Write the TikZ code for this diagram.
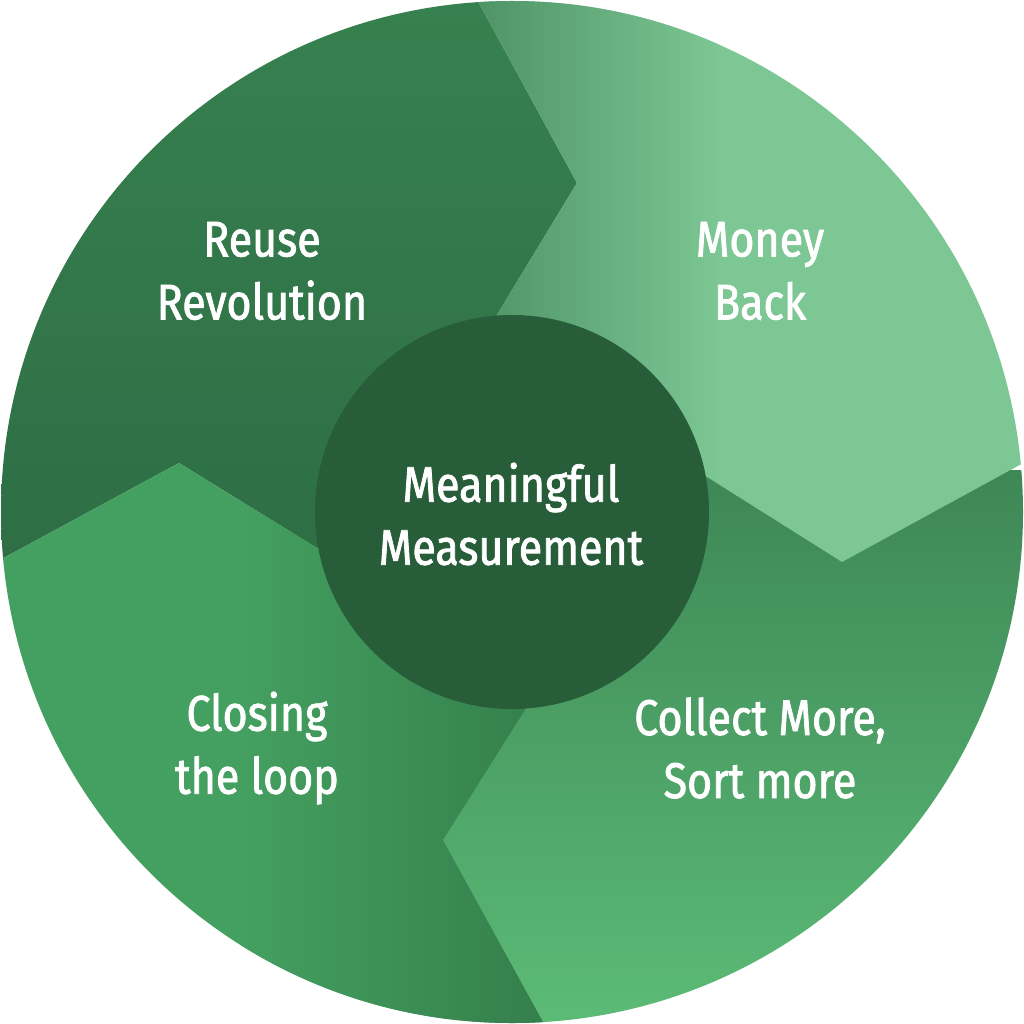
\documentclass[tikz,border=0pt]{standalone}
\usepackage{fontspec}
\setmainfont{Fira Sans}[FakeStretch=0.86,FakeBold=1.6]
\definecolor{reuseA}{HTML}{37814F}
\definecolor{reuseB}{HTML}{2D6C44}
\definecolor{moneyA}{HTML}{4E9265}
\definecolor{moneyB}{HTML}{7CC794}
\definecolor{collA}{HTML}{3E8756}
\definecolor{collB}{HTML}{5CBC77}
\definecolor{closA}{HTML}{44A060}
\definecolor{closB}{HTML}{347D4B}
\definecolor{hub}{HTML}{275D39}
\tikzset{lbl/.style={text=white,align=center,font=\fontsize{50}{63}\selectfont,inner sep=0pt}}
\begin{document}
\begin{tikzpicture}[x=1pt,y=-1pt]
\useasboundingbox (0,0) rectangle (1024,1024);
\begin{scope}
\clip (512,512) circle[radius=511pt];
% Reuse Revolution
\begin{scope}
\clip (-100,-100) -- (423,-100) -- (577,183) -- (497,315) -- (512,512) -- (317,548) -- (179,463) -- (-100,614) -- cycle;
\shade[top color=reuseA,bottom color=reuseB] (-10,-10) rectangle (620,620);
\end{scope}
% Money Back
\begin{scope}
\clip (423,-100) -- (577,183) -- (497,315) -- (512,512) -- (707,477) -- (842,562) -- (1124,408) -- (1124,-100) -- cycle;
\fill[moneyB] (400,-10) rectangle (1034,620);
\shade[left color=moneyA,right color=moneyB] (470,-10) rectangle (720,620);
\end{scope}
% Collect More
\begin{scope}
\clip (1124,408) -- (842,562) -- (707,477) -- (512,512) -- (525,710) -- (443,840) -- (599,1124) -- (1124,1124) -- cycle;
\shade[top color=collA,bottom color=collB] (420,470) rectangle (1034,1034);
\end{scope}
% Closing the loop
\begin{scope}
\clip (599,1124) -- (443,840) -- (525,710) -- (512,512) -- (317,548) -- (179,463) -- (-100,614) -- (-100,1124) -- cycle;
\fill[closA] (-10,440) rectangle (620,1034);
\shade[left color=closA,right color=closB] (240,440) rectangle (560,1034);
\end{scope}
\end{scope}
\fill[hub] (512,512) circle[radius=197pt];
\node[lbl] (reuse) at (262,271) {Reuse\\Revolution};
\node[lbl] (money) at (760,271) {Money\\Back};
\node[lbl] (hubtext) at (511,514) {Meaningful\\Measurement};
\node[lbl] (closing) at (257,748) {Closing\\the loop};
\node[lbl] (collect) at (760,748) {Collect More,\\Sort more};
\end{tikzpicture}
\end{document}
